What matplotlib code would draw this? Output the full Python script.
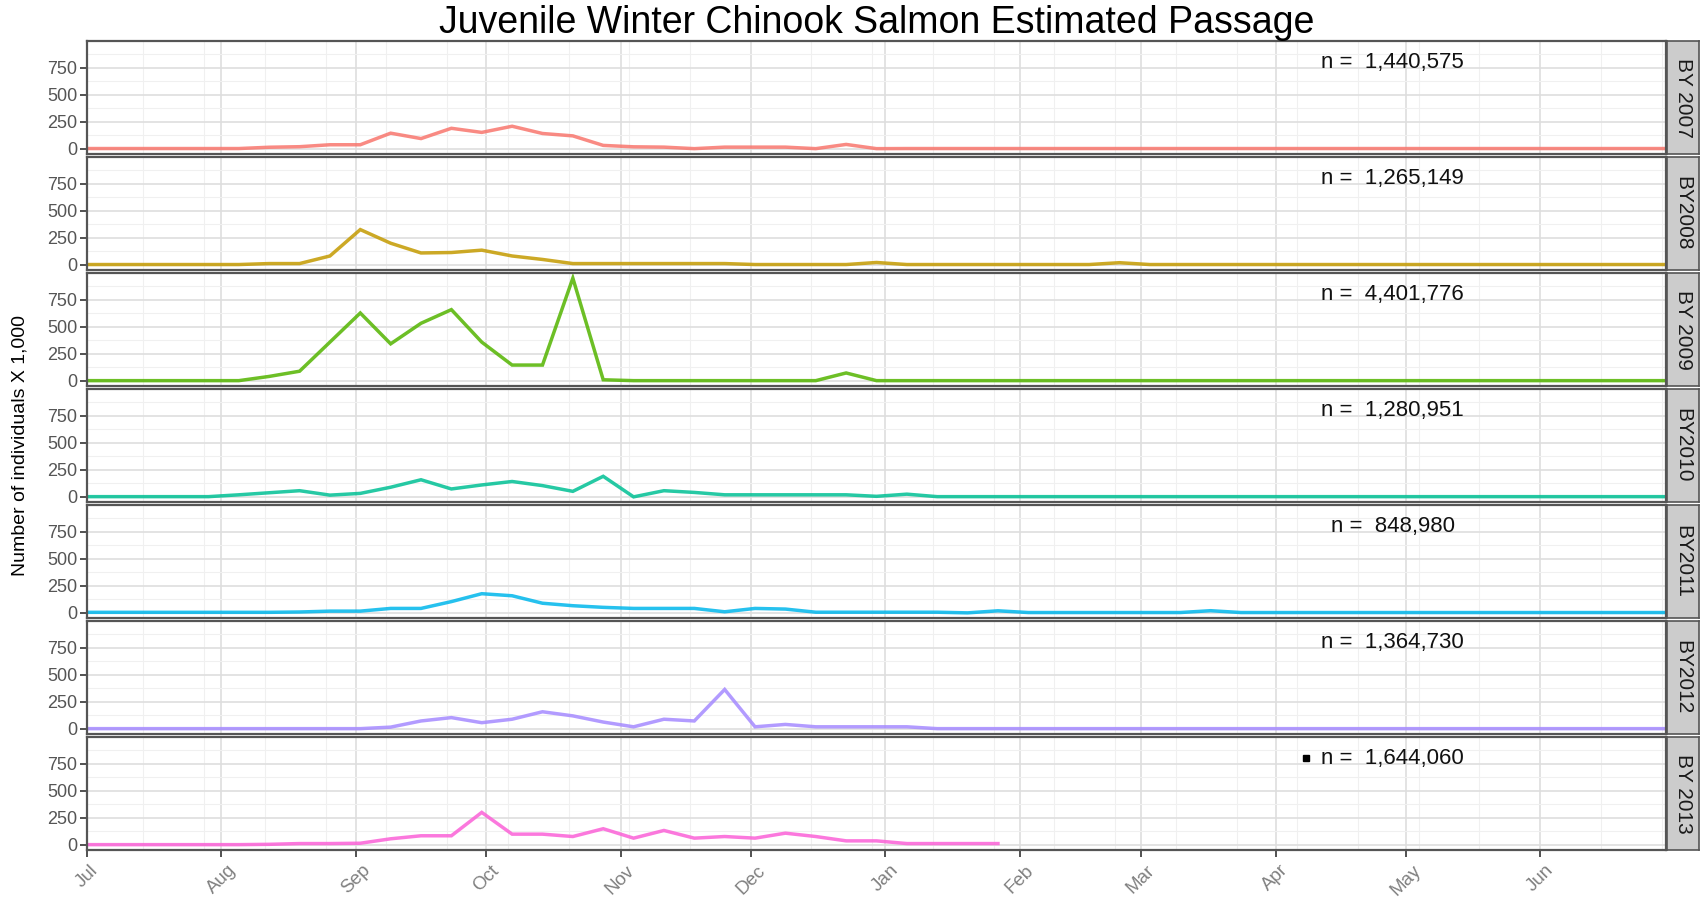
import numpy as np
import pandas as pd
import matplotlib
matplotlib.use('Agg')
import matplotlib.pyplot as plt
import matplotlib.dates as mdates

plt.rcParams['font.family'] = ['Liberation Sans', 'DejaVu Sans']

# weekly passage estimates (thousands), one list per brood year
by2007 = [3, 3, 3, 3, 3, 3, 15, 20, 38, 38, 145, 95, 190, 152, 209, 142, 120, 32, 19, 16,
          2, 16, 16, 16, 2, 41, 2] + [3] * 26
by2008 = [3, 3, 3, 3, 3, 3, 12, 12, 82, 326, 200, 110, 114, 136, 82, 50, 12, 12, 12, 12,
          12, 12, 3, 3, 3, 3, 22, 3, 3, 3, 3, 3, 3, 3, 20] + [3] * 18
by2009 = [2, 2, 2, 2, 2, 2, 41, 89, 358, 627, 342, 532, 658, 358, 146, 146, 949, 10, 2, 2,
          2, 2, 2, 2, 2, 73] + [2] * 27
by2010 = [2, 2, 2, 2, 2, 19, 38, 57, 16, 32, 89, 158, 73, 110, 142, 104, 51, 190, 0, 57,
          41, 19, 19, 19, 19, 19, 5, 25] + [2] * 25
by2011 = [5, 5, 5, 5, 5, 5, 5, 8, 16, 16, 41, 41, 104, 177, 158, 89, 66, 51, 41, 41,
          41, 10, 41, 35, 6, 6, 6, 6, 6, 0, 19, 3, 3, 3, 3, 3, 3, 20] + [3] * 15
by2012 = [2, 2, 2, 2, 2, 2, 2, 2, 2, 2, 16, 73, 104, 57, 89, 158, 120, 63, 19, 89,
          73, 364, 19, 41, 19, 19, 19, 19] + [2] * 25
by2013 = [2, 2, 2, 2, 2, 2, 5, 12, 12, 15, 56, 84, 84, 300, 99, 99, 77, 149, 62, 133,
          62, 77, 62, 108, 77, 37, 37, 12, 12, 12, 12]

series = [by2007, by2008, by2009, by2010, by2011, by2012, by2013]
strip_labels = ['BY 2007', 'BY2008', 'BY 2009', 'BY2010', 'BY2011', 'BY2012', 'BY 2013']
n_labels = ['n =  1,440,575', 'n =  1,265,149', 'n =  4,401,776', 'n =  1,280,951',
            'n =  848,980', 'n =  1,364,730', 'n =  1,644,060']
colors = ['#F8766D', '#C49A00', '#53B400', '#00C094', '#00B6EB', '#A58AFF', '#FB61D7']

start = pd.Timestamp('2013-07-01')
end = pd.Timestamp('2014-06-30')
label_x = pd.Timestamp('2014-04-28')
label_y = 800
marker_x = pd.Timestamp('2014-04-08')

W, H = 1701, 898
left, right, strip_right = 87, 1666, 1699
top, bottom, gap = 41, 850, 3
ph = (bottom - top - 6 * gap) / 7

fig = plt.figure(figsize=(W / 100, H / 100), dpi=100)
ymax = max(max(s) for s in series)
ylim = (-0.05 * ymax, 1.05 * ymax)
minor_x = pd.date_range('2013-07-14', end, freq='14D')

for i, vals in enumerate(series):
    y0 = top + i * (ph + gap)
    ax = fig.add_axes([left / W, 1 - (y0 + ph) / H, (right - left) / W, ph / H])
    dates = pd.date_range(start, periods=len(vals), freq='7D')
    ax.plot(dates, vals, color=colors[i], lw=2.5, alpha=0.85, solid_joinstyle='miter')
    ax.set_xlim(start, end)
    ax.set_ylim(*ylim)
    ax.set_yticks([0, 250, 500, 750])
    ax.set_yticks([125, 375, 625, 875], minor=True)
    ax.xaxis.set_major_locator(mdates.MonthLocator())
    ax.xaxis.set_major_formatter(mdates.DateFormatter('%b'))
    ax.set_xticks(minor_x, minor=True)
    ax.grid(which='major', color='#DEDEDE', lw=1.2)
    ax.grid(which='minor', color='#F0F0F0', lw=0.8)
    ax.set_axisbelow(True)
    for sp in ax.spines.values():
        sp.set_color('#555555')
        sp.set_linewidth(1.6)
    ax.tick_params(axis='y', which='major', labelsize=13, labelcolor='#555555',
                   length=5, width=1.2, color='#333333', pad=2)
    ax.tick_params(which='minor', length=0)
    if i < 6:
        ax.tick_params(axis='x', which='major', length=0, labelbottom=False)
    else:
        ax.tick_params(axis='x', which='major', labelsize=13.5, labelcolor='#808080',
                       length=5, width=1.2, color='#333333', rotation=45)
        for lab in ax.get_xticklabels():
            lab.set_ha('center')
    ax.text(label_x, label_y, n_labels[i], fontsize=16, ha='center', va='center',
            color='#111111')
    if i == 6:
        ax.plot([marker_x], [label_y], marker='s', ms=4, color='black')

    sax = fig.add_axes([(right + 1) / W, 1 - (y0 + ph) / H, (strip_right - right - 1) / W, ph / H])
    sax.set_facecolor('#CCCCCC')
    sax.set_xticks([])
    sax.set_yticks([])
    for sp in sax.spines.values():
        sp.set_color('#555555')
        sp.set_linewidth(1.2)
    sax.text(0.5, 0.5, strip_labels[i], rotation=270, ha='center', va='center',
             fontsize=15, transform=sax.transAxes, color='#1A1A1A')

fig.text((left + right) / 2 / W, 1 - 23 / H, 'Juvenile Winter Chinook Salmon Estimated Passage',
         ha='center', va='center', fontsize=27)
fig.text(20 / W, 1 - 445 / H, 'Number of individuals X 1,000', rotation=90,
         ha='center', va='center', fontsize=14)

fig.savefig('out.png', dpi=100)
